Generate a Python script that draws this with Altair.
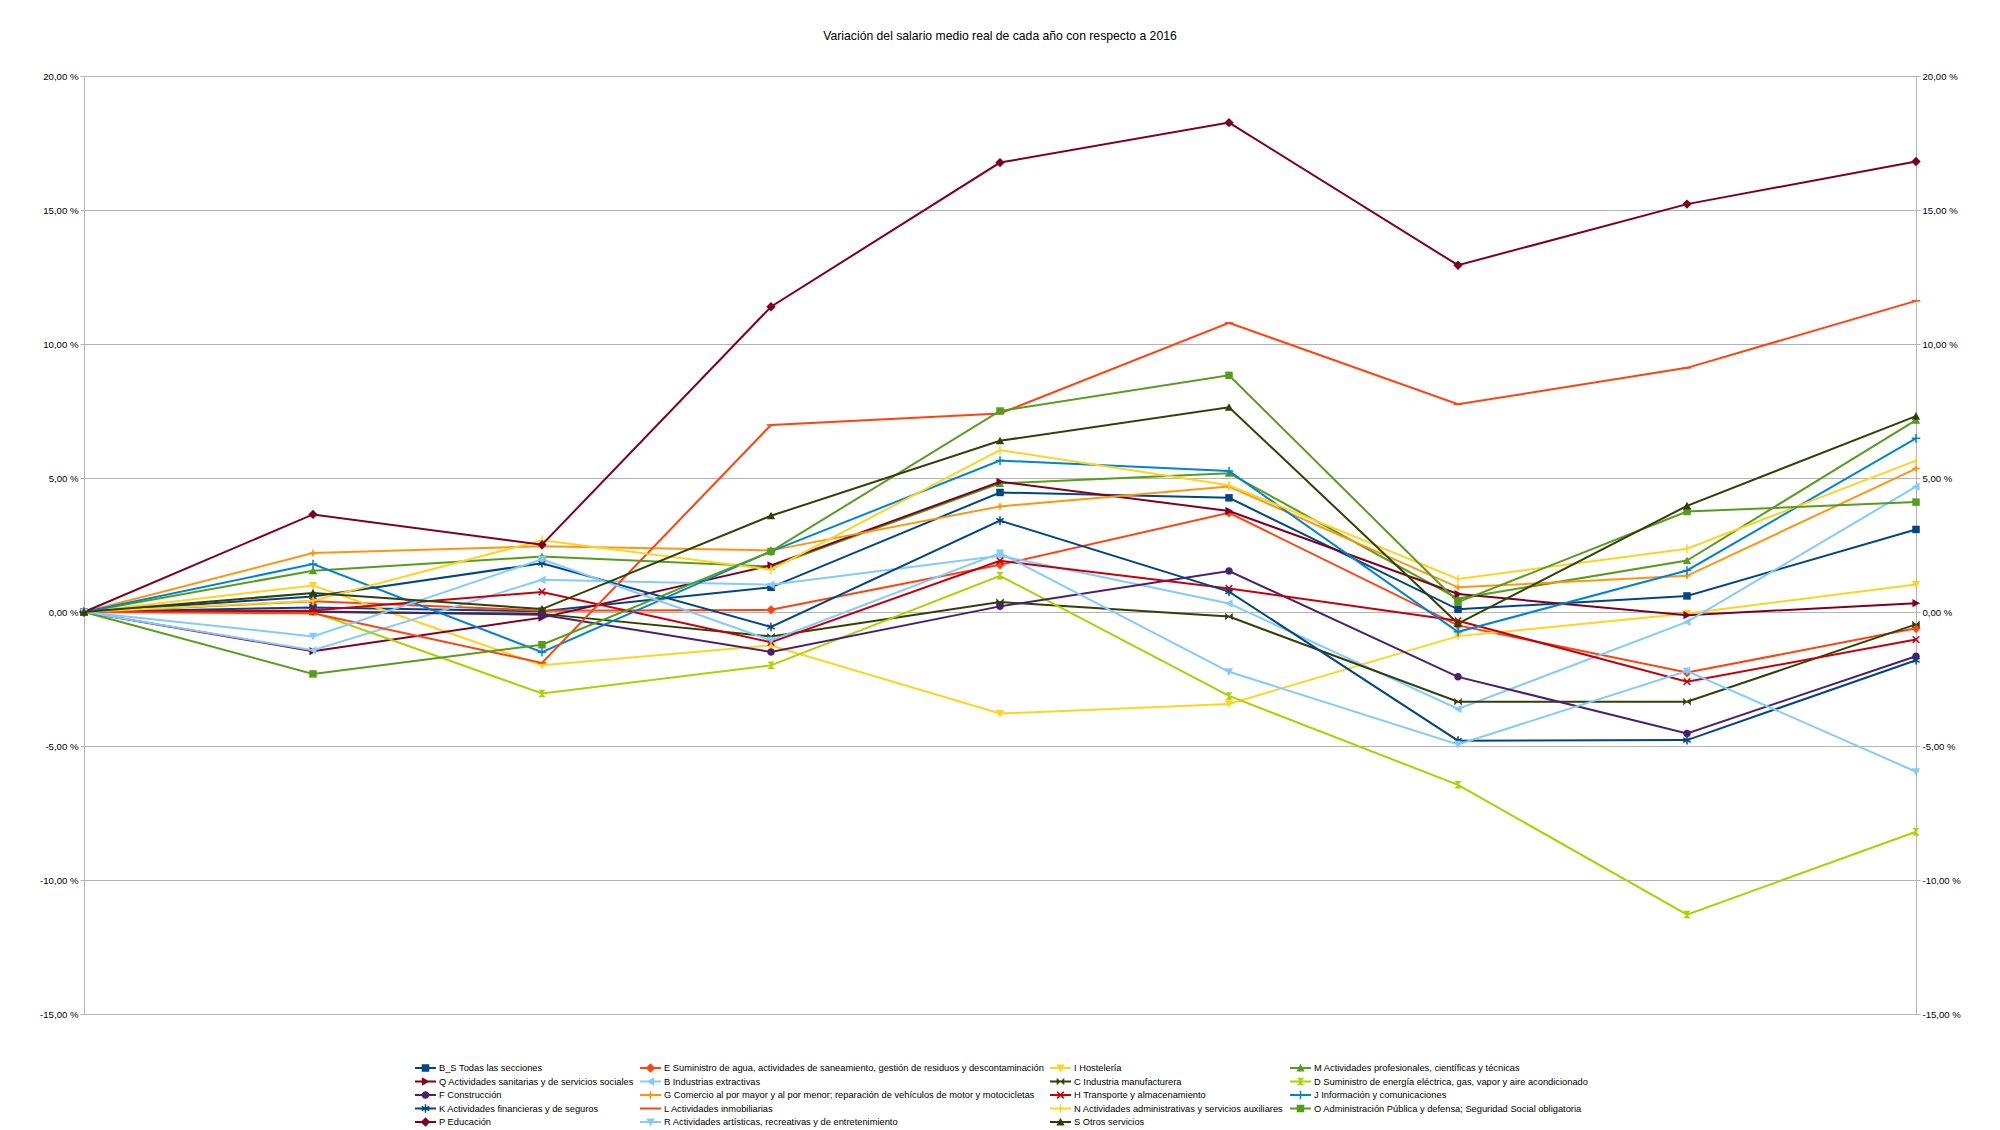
import math
import altair as alt
import pandas as pd

# ---------------------------------------------------------------------------
# Data: real average wage change vs. 2016 (%), one list per activity section
# ---------------------------------------------------------------------------
years = [2016, 2017, 2018, 2019, 2020, 2021, 2022, 2023, 2024]

bs_todas = [0, 0.17, 0.03, 0.92, 4.46, 4.26, 0.10, 0.60, 3.08]
e_agua = [0, 0.40, 0.05, 0.08, 1.76, 3.70, -0.50, -2.26, -0.61]
i_hosteleria = [0, 0.99, -1.99, -1.25, -3.79, -3.43, -0.90, -0.06, 1.03]
m_profesionales = [0, 1.54, 2.07, 1.70, 4.80, 5.18, 0.50, 1.92, 7.16]
q_sanitarias = [0, -1.46, -0.21, 1.74, 4.86, 3.77, 0.67, -0.12, 0.33]
b_extractivas = [0, -1.43, 1.20, 1.02, 2.10, 0.32, -3.62, -0.37, 4.68]
c_manufacturera = [0, 0.00, -0.07, -0.91, 0.37, -0.17, -3.35, -3.35, -0.46]
d_energia = [0, 0.00, -3.04, -1.99, 1.35, -3.13, -6.45, -11.29, -8.20]
f_construccion = [0, 0.02, -0.10, -1.49, 0.21, 1.53, -2.42, -4.53, -1.65]
g_comercio = [0, 2.20, 2.45, 2.30, 3.94, 4.68, 0.92, 1.35, 5.35]
h_transporte = [0, 0.06, 0.75, -1.13, 1.91, 0.88, -0.33, -2.60, -1.03]
j_informacion = [0, 1.79, -1.50, 2.26, 5.65, 5.26, -0.74, 1.55, 6.48]
k_financieras = [0, 0.58, 1.82, -0.56, 3.41, 0.76, -4.80, -4.78, -1.80]
l_inmobiliarias = [0, -0.05, -1.90, 6.98, 7.41, 10.79, 7.75, 9.11, 11.61]
n_administrativas = [0, 0.42, 2.68, 1.58, 6.04, 4.73, 1.23, 2.36, 5.65]
o_publica = [0, -2.31, -1.22, 2.26, 7.50, 8.83, 0.37, 3.75, 4.10]
p_educacion = [0, 3.64, 2.51, 11.39, 16.77, 18.26, 12.94, 15.22, 16.81]
r_artisticas = [0, -0.91, 1.97, -1.06, 2.20, -2.23, -4.94, -2.20, -5.96]
s_otros = [0, 0.71, 0.11, 3.59, 6.39, 7.64, -0.43, 3.96, 7.31]

section_names = [
    "B_S Todas las secciones",
    "E Suministro de agua, actividades de saneamiento, gestión de residuos y descontaminación",
    "I Hostelería",
    "M Actividades profesionales, científicas y técnicas",
    "Q Actividades sanitarias y de servicios sociales",
    "B Industrias extractivas",
    "C Industria manufacturera",
    "D Suministro de energía eléctrica, gas, vapor y aire acondicionado",
    "F Construcción",
    "G Comercio al por mayor y al por menor; reparación de vehículos de motor y motocicletas",
    "H Transporte y almacenamiento",
    "J Información y comunicaciones",
    "K Actividades financieras y de seguros",
    "L Actividades inmobiliarias",
    "N Actividades administrativas y servicios auxiliares",
    "O Administración Pública y defensa; Seguridad Social obligatoria",
    "P Educación",
    "R Actividades artísticas, recreativas y de entretenimiento",
    "S Otros servicios",
]
section_values = [
    bs_todas, e_agua, i_hosteleria, m_profesionales, q_sanitarias,
    b_extractivas, c_manufacturera, d_energia, f_construccion, g_comercio,
    h_transporte, j_informacion, k_financieras, l_inmobiliarias,
    n_administrativas, o_publica, p_educacion, r_artisticas, s_otros,
]

# ---------------------------------------------------------------------------
# Styling: office-suite default palette and symbol sequence
# ---------------------------------------------------------------------------
palette = [
    "#004586", "#ff420e", "#ffd320", "#579d1c", "#7e0021", "#83caff",
    "#314004", "#aecf00", "#4b1f6f", "#ff950e", "#c5000b", "#0084d1",
    "#004586", "#ff420e", "#ffd320", "#579d1c", "#7e0021", "#83caff",
    "#314004",
]
symbols = [
    "square", "diamond", "down", "up", "right", "left", "bowtie", "hourglass",
    "circle", "star", "x", "plus", "asterisk", "hbar", "vbar",
    "square", "diamond", "down", "up",
]

FONT = "Liberation Sans"
GRID = "#b3b3b3"
T = 0.2  # half thickness of the thin symbol strokes
LEGEND_COLUMNS = 4


def _bar(w, h):
    return [(-w, -h), (w, -h), (w, h), (-w, h)]


def _rot(poly, deg):
    t = math.radians(deg)
    c, s = math.cos(t), math.sin(t)
    return [(x * c - y * s, x * s + y * c) for x, y in poly]


def _clockwise(poly):
    area = sum(x0 * y1 - x1 * y0 for (x0, y0), (x1, y1) in zip(poly, poly[1:] + poly[:1]))
    return poly if area > 0 else poly[::-1]


SHAPES = {
    "square": [_bar(1, 1)],
    "diamond": [[(0, -1.25), (1.25, 0), (0, 1.25), (-1.25, 0)]],
    "down": [[(-1.1, -0.95), (1.1, -0.95), (0, 1.1)]],
    "up": [[(-1.1, 0.95), (1.1, 0.95), (0, -1.1)]],
    "right": [[(-0.95, -1.1), (1.1, 0), (-0.95, 1.1)]],
    "left": [[(0.95, -1.1), (-1.1, 0), (0.95, 1.1)]],
    "bowtie": [[(-1, -1), (0, 0), (-1, 1)], [(1, -1), (1, 1), (0, 0)]],
    "hourglass": [[(-1, -1), (1, -1), (0, 0)], [(0, 0), (1, 1), (-1, 1)]],
    "star": [[(0, -1.25), (0.3, -0.3), (1.25, 0), (0.3, 0.3), (0, 1.25),
              (-0.3, 0.3), (-1.25, 0), (-0.3, -0.3)]],
    "x": [_rot(_bar(1.25, T), 45), _rot(_bar(1.25, T), -45)],
    "plus": [_bar(1.15, T), _bar(T, 1.15)],
    "asterisk": [_bar(T, 1.15), _rot(_bar(T, 1.15), 60), _rot(_bar(T, 1.15), 120)],
    "hbar": [_bar(1.15, T)],
    "vbar": [_bar(T, 1.15)],
}


def _poly_path(poly):
    pts = _clockwise(poly)
    return "M" + "L".join(f"{x:.3f},{y:.3f}" for x, y in pts) + "Z"


def symbol_path(kind, k=1.0, line=0.0):
    """SVG path in the [-1, 1] symbol box; optional horizontal line through it."""
    parts = []
    if line:
        parts.append(_poly_path(_bar(1, line)))
    if kind == "circle":
        r = k
        parts.append(f"M{-r:.3f},0A{r:.3f},{r:.3f} 0 1 1 {r:.3f},0"
                     f"A{r:.3f},{r:.3f} 0 1 1 {-r:.3f},0Z")
    else:
        for poly in SHAPES[kind]:
            parts.append(_poly_path([(x * k, y * k) for x, y in poly]))
    return "".join(parts)


# ---------------------------------------------------------------------------
# Long-form table
# ---------------------------------------------------------------------------
rows = []
for name, vals in zip(section_names, section_values):
    for yr, v in zip(years, vals):
        rows.append({"seccion": name, "anio": yr, "valor": v})
df = pd.DataFrame(rows)

W, H = 1832, 938
x_scale = alt.Scale(domain=[2016, 2024], nice=False, zero=False)
y_scale = alt.Scale(domain=[-15, 20], nice=False, zero=False)
y_ticks = list(range(-15, 25, 5))
pct_expr = ("replace(replace(format(datum.value, '.2f'), '.', ','), '\u2212', '-') + ' %'")

axis_common = dict(
    values=y_ticks, labelExpr=pct_expr, title=None,
    labelFont=FONT, labelFontSize=9.6, labelColor="#000000",
    domainColor=GRID, tickColor=GRID, tickSize=4, labelPadding=2,
)
left_axis = alt.Axis(orient="left", grid=True, gridColor=GRID, gridWidth=1, **axis_common)
right_axis = alt.Axis(orient="right", grid=False, **axis_common)
x_axis = alt.Axis(values=years, format="d", title=None, grid=False, domain=False,
                  ticks=False, labelFont=FONT, labelFontSize=9.6, labelColor="#000000",
                  labelPadding=7)

layers = []
for i, (name, color, kind) in enumerate(zip(section_names, palette, symbols)):
    if i == 0:
        y_axis = left_axis
    elif i == 1:
        y_axis = right_axis
    else:
        y_axis = None
    layer = (
        alt.Chart(df)
        .transform_filter(alt.datum.seccion == name)
        .mark_line(
            color=color, strokeWidth=2,
            point=alt.OverlayMarkDef(shape=symbol_path(kind), filled=True,
                                     size=56, color=color, opacity=1),
        )
        .encode(
            x=alt.X("anio:Q", scale=x_scale, axis=x_axis if i == 0 else None),
            y=alt.Y("valor:Q", scale=y_scale, axis=y_axis),
        )
    )
    layers.append(layer)

# Legend entries are read across the rows; the legend grid fills column by
# column, so the domain is listed column-wise.
n = len(section_names)
n_rows = math.ceil(n / LEGEND_COLUMNS)
legend_order = [r * LEGEND_COLUMNS + c
                for c in range(LEGEND_COLUMNS) for r in range(n_rows)
                if r * LEGEND_COLUMNS + c < n]
legend_names = [section_names[j] for j in legend_order]
legend_colors = [palette[j] for j in legend_order]
legend_paths = [symbol_path(symbols[j], k=0.36, line=0.095) for j in legend_order]

legend = alt.Legend(
    title=None, orient="none", legendX=331, legendY=986.5, columns=LEGEND_COLUMNS,
    symbolSize=441, symbolStrokeWidth=0, clipHeight=11, rowPadding=2.5,
    columnPadding=6, labelOffset=3, labelFont=FONT, labelFontSize=9.3,
    labelColor="#000000", labelLimit=2000, padding=0,
)
legend_layer = (
    alt.Chart(df)
    .transform_filter("false")
    .mark_point(filled=True, opacity=1)
    .encode(
        x=alt.X("anio:Q", scale=x_scale, axis=None),
        y=alt.Y("valor:Q", scale=y_scale, axis=None),
        color=alt.Color("seccion:N", scale=alt.Scale(domain=legend_names, range=legend_colors),
                        legend=legend),
        shape=alt.Shape("seccion:N", scale=alt.Scale(domain=legend_names, range=legend_paths),
                        legend=legend),
    )
)
layers.append(legend_layer)

chart = (
    alt.layer(*layers)
    .resolve_axis(y="independent")
    .properties(
        width=W, height=H,
        autosize=alt.AutoSizeParams(type="none"),
        padding={"left": 84, "top": 76, "right": 84, "bottom": 116},
        title=alt.TitleParams(
            "Variación del salario medio real de cada año con respecto a 2016",
            font=FONT, fontSize=12.2, fontWeight="normal", color="#000000",
            anchor="middle", offset=28.5,
        ),
    )
    .configure_view(stroke=None)
    .configure(background="#ffffff")
)

chart.save("out.html", embed_options={"renderer": "svg", "actions": False})
